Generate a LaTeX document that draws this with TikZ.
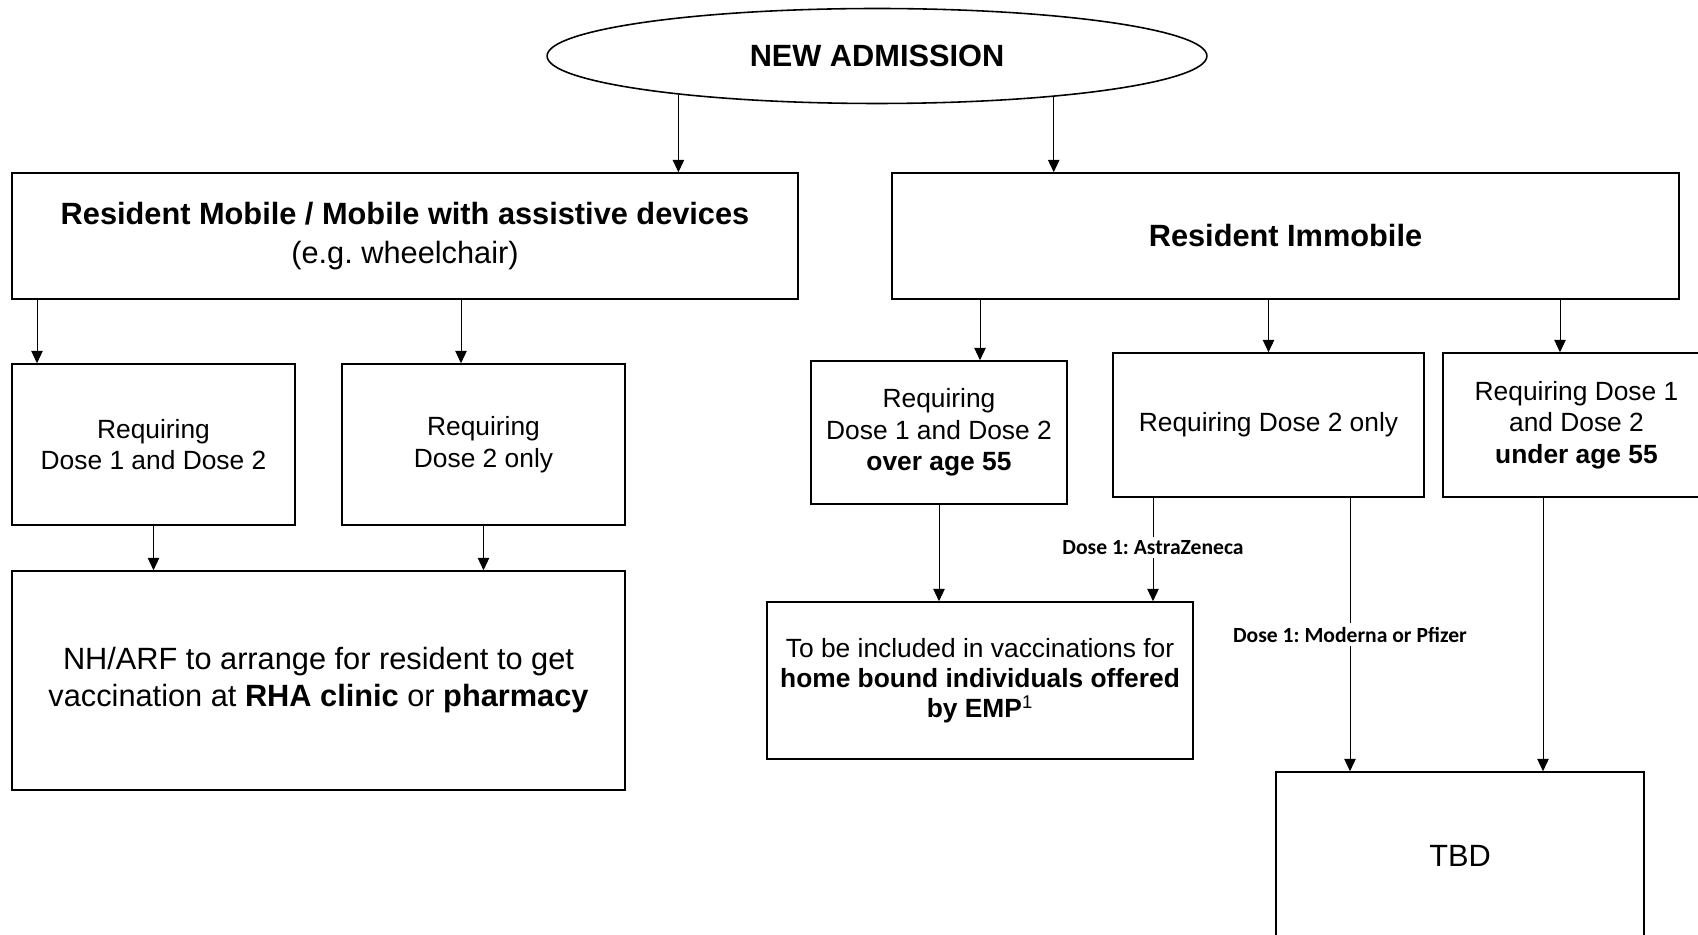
\documentclass[tikz,border=0pt]{standalone}
\usepackage{fontspec}
\setmainfont{Liberation Sans}
\newfontfamily\calfont{Carlito}
\usetikzlibrary{positioning,calc,shapes.geometric,arrows.meta}
\frenchspacing

\begin{document}
\begin{tikzpicture}[x=0.02cm,y=-0.02cm,
  box/.style={draw,line width=0.9pt,inner sep=0pt,align=center,font=\fontsize{15}{18}\selectfont},
  bigbox/.style={box,font=\fontsize{17.5}{22}\selectfont},
  arr/.style={line width=0.5pt,-{Triangle[length=7pt,width=6.5pt]}},
  lbl/.style={fill=white,inner sep=2pt,font=\calfont\bfseries\fontsize{12.3}{14}\selectfont}]
\useasboundingbox (0,0) rectangle (1698,935);
\clip (0,0) rectangle (1698,935);
%admission
\node[ellipse,draw,line width=0.9pt,minimum width=13.2cm,minimum height=1.9cm,inner sep=0pt,
  font=\bfseries\fontsize{17.5}{20}\selectfont] (adm) at (877,56) {NEW ADMISSION};
%mobile side
\node[bigbox,minimum width=15.72cm,minimum height=2.52cm] (mob) at (405,236)
  {\textbf{Resident Mobile / Mobile with assistive devices}\\(e.g. wheelchair)};
\node[box,minimum width=5.66cm,minimum height=3.22cm] (mobA) at (153.5,444.5) {Requiring\\Dose 1 and Dose 2};
\node[box,minimum width=5.66cm,minimum height=3.22cm] (mobB) at (483.5,444.5) {Requiring\\Dose 2 only};
\node[bigbox,minimum width=12.26cm,minimum height=4.38cm,font=\fontsize{17.5}{21}\selectfont] (clinic) at (318.5,680.5)
  {NH/ARF to arrange for resident to get\\vaccination at \textbf{RHA clinic} or \textbf{pharmacy}};
%immobile side
\node[bigbox,minimum width=15.74cm,minimum height=2.52cm] (imm) at (1285.5,236) {\textbf{Resident Immobile}};
\node[box,minimum width=5.12cm,minimum height=2.86cm] (immA) at (939,432.5) {Requiring\\Dose 1 and Dose 2\\\textbf{over age 55}};
\node[box,minimum width=6.22cm,minimum height=2.88cm] (immB) at (1268.5,425) {Requiring Dose 2 only};
\node[box,minimum width=5.34cm,minimum height=2.88cm] (immC) at (1576.5,425) {Requiring Dose 1\\and Dose 2\\\textbf{under age 55}};
\node[box,minimum width=8.52cm,minimum height=3.14cm,font=\fontsize{15}{17}\selectfont] (home) at (980,680.5)
  {To be included in vaccinations for\\\textbf{home bound individuals offered}\\\textbf{by EMP}\textsuperscript{1}};
\node[bigbox,minimum width=7.36cm,minimum height=3.36cm] (tbd) at (1460,856) {TBD};
%arrows
\draw[arr] (adm.-169.6) -- (adm.-169.6 |- mob.north);
\draw[arr] (adm.-13.4) -- (adm.-13.4 |- imm.north);
\draw[arr] (37,0 |- mob.south) -- (37,0 |- mobA.north);
\draw[arr] (461,0 |- mob.south) -- (461,0 |- mobB.north);
\draw[arr] (mobA.south) -- (mobA.south |- clinic.north);
\draw[arr] (mobB.south) -- (mobB.south |- clinic.north);
\draw[arr] (980,0 |- imm.south) -- (980,0 |- immA.north);
\draw[arr] (immB.north |- imm.south) -- (immB.north);
\draw[arr] (1560,0 |- imm.south) -- (1560,0 |- immC.north);
\draw[arr] (immA.south) -- (immA.south |- home.north);
\draw[arr] (1153,0 |- immB.south) -- (1153,0 |- home.north) node[lbl,pos=0.48] {Dose 1: AstraZeneca};
\draw[arr] (1350,0 |- immB.south) -- (1350,0 |- tbd.north) node[lbl,midway] {Dose 1: Moderna or Pfizer};
\draw[arr] (1543,0 |- immC.south) -- (1543,0 |- tbd.north);
\end{tikzpicture}
\end{document}
